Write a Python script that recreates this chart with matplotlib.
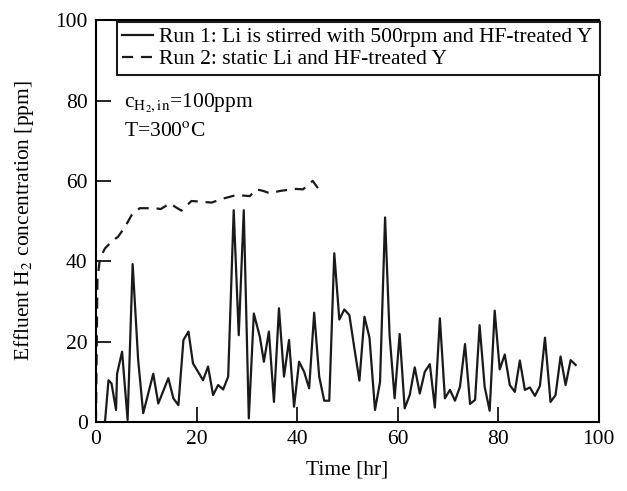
import numpy as np
import matplotlib.pyplot as plt

plt.rcParams['font.family'] = ['Liberation Serif', 'DejaVu Serif']
plt.rcParams['mathtext.fontset'] = 'stix'

# Run 1: stirred Li (time in hr, H2 in ppm)
run1_t = [1.8, 2.5, 3.1, 4.0, 4.2, 5.2, 6.3, 7.3, 8.4, 9.4, 11.4, 12.4, 14.4, 15.4,
          16.4, 17.4, 18.4, 19.3, 21.3, 22.3, 23.3, 24.3, 25.3, 26.3, 27.4, 28.4,
          29.4, 30.4, 31.4, 32.6, 33.4, 34.4, 35.4, 36.4, 37.4, 38.4, 39.4, 40.4,
          41.4, 42.4, 43.4, 44.4, 45.4, 46.4, 47.4, 48.4, 49.4, 50.4, 51.4, 52.4,
          53.4, 54.4, 55.5, 56.5, 57.5, 58.4, 59.4, 60.4, 61.4, 62.4, 63.4, 64.4,
          65.4, 66.4, 67.4, 68.4, 69.4, 70.4, 71.4, 72.4, 73.4, 74.4, 75.4, 76.3,
          77.3, 78.3, 79.3, 80.3, 81.3, 82.3, 83.3, 84.3, 85.3, 86.3, 87.3, 88.3,
          89.3, 90.4, 91.4, 92.4, 93.4, 94.4, 95.4]
run1_c = [0.0, 10.4, 9.6, 3.0, 12.0, 17.5, 0.5, 39.3, 15.4, 2.2, 12.0, 4.6, 10.9, 5.9,
          4.2, 20.4, 22.5, 14.6, 10.4, 13.8, 6.7, 9.2, 8.1, 11.3, 52.7, 21.6,
          52.7, 0.9, 27.0, 21.2, 15.0, 22.5, 5.0, 28.3, 11.3, 20.4, 3.8, 15.0,
          12.5, 8.4, 27.2, 11.3, 5.3, 5.3, 42.0, 25.5, 28.0, 26.6, 18.3, 10.3,
          26.2, 21.0, 3.0, 10.0, 50.9, 21.6, 5.9, 21.9, 3.4, 6.7, 13.6, 7.1,
          12.5, 14.4, 3.6, 25.8, 5.9, 8.0, 5.3, 8.8, 19.4, 4.5, 5.5, 24.1,
          8.8, 2.8, 27.7, 13.1, 16.8, 9.2, 7.5, 15.3, 8.0, 8.6, 6.5, 9.0,
          21.0, 5.0, 6.7, 16.3, 9.2, 15.4, 14.2]

# Run 2: static Li
run2_t = [0.0, 0.3, 0.8, 1.8, 3.1, 4.4, 5.8, 7.1, 8.7, 11.7, 12.9, 14.7, 16.2, 17.0,
          19.0, 23.0, 25.3, 28.0, 30.6, 31.9, 33.3, 34.6, 36.6, 39.6, 41.2, 43.1, 44.9]
run2_c = [0.0, 35.5, 40.7, 43.2, 44.9, 46.1, 48.6, 51.5, 53.2, 53.2, 53.0, 54.4, 53.2, 52.6,
          55.0, 54.6, 55.6, 56.5, 56.2, 57.9, 57.5, 56.9, 57.5, 58.0, 57.9, 60.0, 56.9]

fig = plt.figure(figsize=(6.27, 4.91), dpi=100)
ax = fig.add_axes([0.153, 0.1405, 0.802, 0.8185])

ax.plot(run1_t, run1_c, color='#1a1a1a', lw=1.6,
        label='Run 1: Li is stirred with 500rpm and HF-treated Y')
ax.plot(run2_t, run2_c, color='#1a1a1a', lw=1.6, dashes=(5, 3.5),
        label='Run 2: static Li and HF-treated Y')

ax.set_xlim(0, 100)
ax.set_ylim(0, 100)
ax.set_xticks([0, 20, 40, 60, 80, 100])
ax.set_yticks([0, 20, 40, 60, 80, 100])
ax.tick_params(direction='in', length=10.5, width=1.2, labelsize=15.5,
               top=False, right=False, pad=6)
for s in ax.spines.values():
    s.set_linewidth(1.5)

ax.set_xlabel('Time [hr]', fontsize=15.5, labelpad=8)
ax.set_ylabel('Effluent H$_2$ concentration [ppm]', fontsize=15.5, labelpad=14)

ax.text(0.055, 0.785, r'c$_{\mathrm{H_2,in}}$=100ppm', transform=ax.transAxes,
        fontsize=15.5, va='baseline')
ax.text(0.055, 0.712, r'T=300$^{\mathrm{o}}$C', transform=ax.transAxes,
        fontsize=15.5, va='baseline')

leg = ax.legend(loc='upper left', bbox_to_anchor=(0.042, 0.996, 0.96, 0.0),
                mode='expand', fontsize=15.5, frameon=True, fancybox=False,
                borderpad=0.25, handlelength=1.4, handletextpad=0.3,
                labelspacing=0.1, borderaxespad=0)
leg.get_frame().set_edgecolor('#1a1a1a')
leg.get_frame().set_linewidth(1.5)
leg.get_frame().set_alpha(1)

fig.savefig('out.png', dpi=100)
